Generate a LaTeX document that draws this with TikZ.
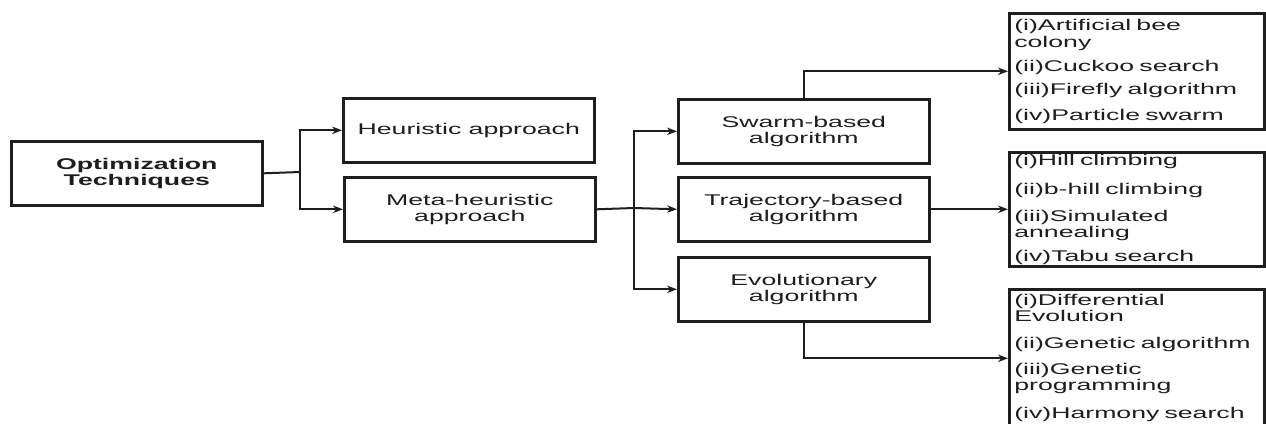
\documentclass[tikz,border=0pt]{standalone}
\usepackage{fontspec}
\setmainfont{Liberation Sans}[FakeStretch=1.72]
\usetikzlibrary{arrows.meta}
\definecolor{ink}{HTML}{1E1E1E}
\begin{document}
\begin{tikzpicture}[x=1pt,y=-1pt,
  box/.style={draw=ink, line width=2.6pt, minimum width=251pt, minimum height=64pt, inner sep=0pt, align=center, font=\fontsize{15.5}{16.5}\selectfont, text=ink, anchor=north west},
  listbox/.style={draw=ink, line width=2.6pt, anchor=north west, text width=245pt, inner xsep=5pt, inner ysep=0pt, align=left, font=\fontsize{15.5}{17}\selectfont, text=ink},
  conn/.style={draw=ink, line width=2pt},
  arr/.style={conn, -{Stealth[length=10pt,width=7.5pt]}}]
\fill[white] (0,0) rectangle (1266,423);
\useasboundingbox (0,0) rectangle (1266,423);
\begin{scope}
\clip (0,0) rectangle (1266,423);
\node[box, minimum height=64pt] (opt) at (10,140) {\textbf{Optimization}\\\textbf{Techniques}};
\node[box] (heur) at (342,97) {Heuristic approach};
\node[box, minimum height=64pt] (meta) at (343,176) {Meta-heuristic\\approach};
\node[box] (swarm) at (677,98) {Swarm-based\\algorithm};
\node[box, minimum height=64pt] (traj) at (677,176) {Trajectory-based\\algorithm};
\node[box] (evo) at (677,256) {Evolutionary\\algorithm};
\node[listbox, minimum height=116pt] (l1) at (1008,12) {(i)Artificial bee\\colony\\[7pt](ii)Cuckoo search\\[6pt](iii)Firefly algorithm\\[9pt](iv)Particle swarm};
\node[listbox, minimum height=114pt] (l2) at (1008,151) {(i)Hill climbing\\[12pt](ii)b-hill climbing\\[10pt](iii)Simulated\\[-1pt]annealing\\[7pt](iv)Tabu search};
\node[listbox, minimum height=138pt] (l3) at (1008,288) {(i)Differential\\[-1pt]Evolution\\[10pt](ii)Genetic algorithm\\[9pt](iii)Genetic\\[-1pt]programming\\[11pt](iv)Harmony search};
\end{scope}
\coordinate (j1) at (300,172);
\coordinate (j2) at (634,208);
\draw[conn] (opt.east) -- (j1);
\draw[arr] (j1) |- (heur.west);
\draw[arr] (j1) |- (meta.west);
\draw[conn] (meta.east) -- (j2);
\draw[arr] (j2) |- (swarm.west);
\draw[arr] (j2) -- (traj.west);
\draw[arr] (j2) |- (evo.west);
\draw[arr] (swarm.north) |- (l1.west);
\draw[arr] (traj.east) -- (l2.west);
\draw[arr] (evo.south) |- (l3.west);
\end{tikzpicture}
\end{document}
